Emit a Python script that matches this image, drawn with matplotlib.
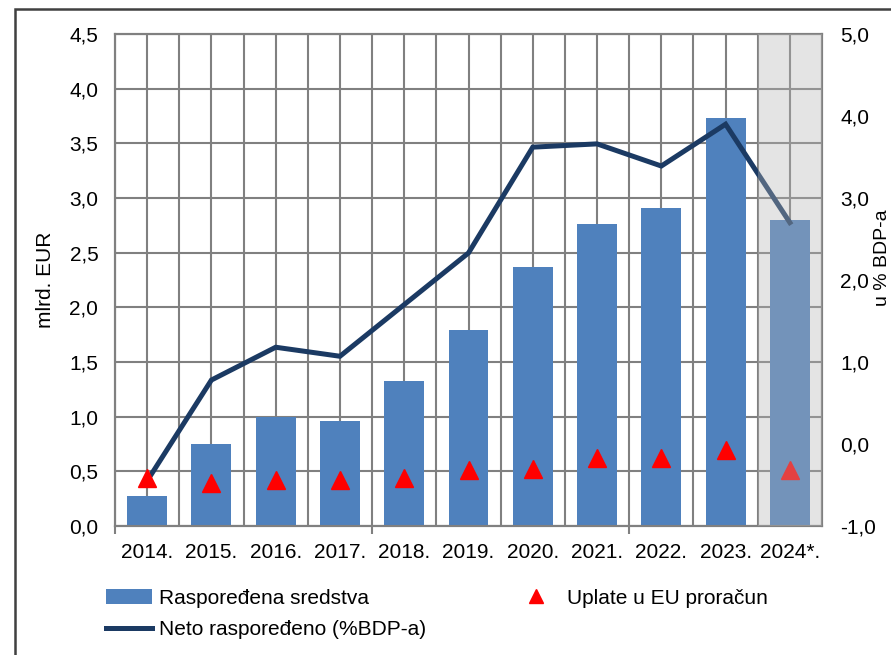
import numpy as np
import matplotlib.pyplot as plt
import matplotlib.patches as mpatches
from matplotlib.ticker import FuncFormatter, FixedLocator

plt.rcParams['font.family'] = ['Liberation Sans', 'DejaVu Sans']

# podaci
godine = ['2014.', '2015.', '2016.', '2017.', '2018.', '2019.', '2020.',
          '2021.', '2022.', '2023.', '2024*.']
rasporedena = [0.27, 0.75, 1.00, 0.96, 1.33, 1.79, 2.37, 2.76, 2.91, 3.73, 2.80]   # mlrd. EUR
neto_bdp = [-0.45, 0.78, 1.18, 1.07, 1.70, 2.33, 3.62, 3.66, 3.39, 3.90, 2.70]     # % BDP-a
uplate_bdp = [-0.41, -0.48, -0.44, -0.44, -0.42, -0.32, -0.30, -0.17, -0.17, -0.07, -0.32]

bar_boja = '#4f81bd'
linija_boja = '#1b3a63'
grid_boja = '#808080'
fs = 15

fig = plt.figure(figsize=(8.91, 6.55), dpi=100)
ax = fig.add_axes([115/891, 1-526/655, 707/891, 492/655])
ax2 = ax.twinx()

x = np.arange(len(godine))

ax.bar(x, rasporedena, width=0.62, color=bar_boja, zorder=3,
       label='Raspoređena sredstva')
ax.set_ylim(0, 4.5)
ax.set_xlim(-0.5, len(godine) - 0.5)
ax.set_yticks(np.arange(0, 4.51, 0.5))

ax2.plot(x, neto_bdp, color=linija_boja, lw=3.6, zorder=4,
         solid_joinstyle='miter', label='Neto raspoređeno (%BDP-a)')
ax2.plot(x, uplate_bdp, ls='none', marker='^', ms=13, color='#ff0000',
         zorder=5, label='Uplate u EU proračun')
ax2.set_ylim(-1, 5)
ax2.set_yticks(np.arange(-1, 5.01, 1))

# siva zona za procjenu 2024.
ax2.axvspan(len(godine) - 1.5, len(godine) - 0.5, color='#b5b5b5', alpha=0.36,
            lw=0, zorder=6)

# mreza: linije na granicama i na sredinama kategorija
ax.set_axisbelow(True)
for xv in np.arange(-0.5, len(godine), 0.5):
    ax.axvline(xv, color=grid_boja, lw=1.5, zorder=1)
ax.yaxis.grid(True, color=grid_boja, lw=1.5, zorder=1)

fmt = FuncFormatter(lambda v, p: f'{v:.1f}'.replace('.', ','))
ax.yaxis.set_major_formatter(fmt)
ax2.yaxis.set_major_formatter(fmt)

ax.set_xticks(x)
ax.set_xticklabels(godine)
ax.tick_params(axis='x', length=0, labelsize=fs, pad=12)
ax.xaxis.set_minor_locator(FixedLocator([-0.5, 3.5, 7.5]))
ax.tick_params(axis='x', which='minor', length=6, width=1.5, color=grid_boja)
ax.tick_params(axis='y', length=0, labelsize=fs, pad=12)
ax2.tick_params(axis='y', length=0, labelsize=fs, pad=13)

for a in (ax, ax2):
    for s in a.spines.values():
        s.set_color(grid_boja)
        s.set_linewidth(1.5)

ax.set_ylabel('mlrd. EUR', fontsize=fs, labelpad=10)
fig.text(891/891, 1-258/655, 'u % BDP-a', rotation=90, fontsize=14,
         ha='right', va='center')

# okvir grafikona
fig.patches.append(mpatches.Rectangle((15/891, -0.1), 1.0, 1.1 - 9/655,
                   transform=fig.transFigure, fill=False, ec='#404040', lw=1.8))

h1, l1 = ax.get_legend_handles_labels()
h2, l2 = ax2.get_legend_handles_labels()
fig.legend([h1[0], h2[0], h2[1]], [l1[0], l2[0], l2[1]], ncol=2,
           loc='upper left', bbox_to_anchor=(87/891, 1-570/655), frameon=False,
           fontsize=fs, handlelength=2.2, columnspacing=4.2, labelspacing=0.6,
           handletextpad=0.35, markerscale=0.75)

fig.savefig('out.png', dpi=100)
